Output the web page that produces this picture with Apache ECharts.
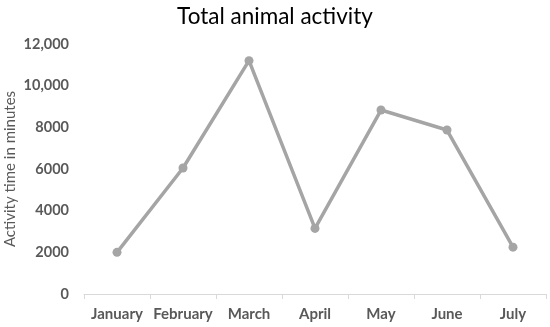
<!DOCTYPE html>
<html><head><meta charset="utf-8">
<script src="https://cdn.jsdelivr.net/npm/echarts@6/dist/echarts.min.js"></script>
<style>html,body{margin:0;padding:0;background:#fff}#c{width:550px;height:327px}</style>
</head><body><div id="c"></div>
<script>
var categories = ["January","February","March","April","May","June","July"];
var activity = [2000, 6050, 11200, 3150, 8830, 7870, 2250];
var yTickLabels = {0:"0",2000:"2000",4000:"4000",6000:"6000",8000:"8000",10000:"10,000",12000:"12,000"};
var chart = echarts.init(document.getElementById('c'));
chart.setOption({
  animation:false,
  title:{text:"Total animal activity",left:'center',top:0,textStyle:{fontFamily:"Lato",fontWeight:'normal',fontSize:22.5,color:'#000'}},
  grid:{left:84,right:4,top:44,bottom:33,containLabel:false,outerBoundsMode:'none'},
  xAxis:{type:'category',data:categories,boundaryGap:true,
    axisLine:{lineStyle:{color:'#d9d9d9',width:1}},
    axisTick:{show:true,length:5,lineStyle:{color:'#d9d9d9'}},
    axisLabel:{interval:0,color:'#595959',fontWeight:'bold',fontSize:15,fontFamily:"Lato",margin:13}},
  yAxis:{type:'value',min:0,max:12000,interval:2000,
    name:"Activity time in minutes",nameLocation:'middle',nameGap:66,nameRotate:90,nameMoveOverlap:false,
    nameTextStyle:{color:'#595959',fontSize:15,fontFamily:"Lato"},
    axisLine:{show:false},axisTick:{show:false},splitLine:{show:false},
    axisLabel:{color:'#595959',fontWeight:'bold',fontSize:14.5,fontFamily:"Lato",margin:15,
      formatter:function(v){return yTickLabels[v]!==undefined?yTickLabels[v]:String(v);}}},
  series:[{type:'line',data:activity,symbol:'circle',symbolSize:9,
    lineStyle:{color:'#a5a5a5',width:3.5},itemStyle:{color:'#a5a5a5'}}]
});
</script></body></html>
